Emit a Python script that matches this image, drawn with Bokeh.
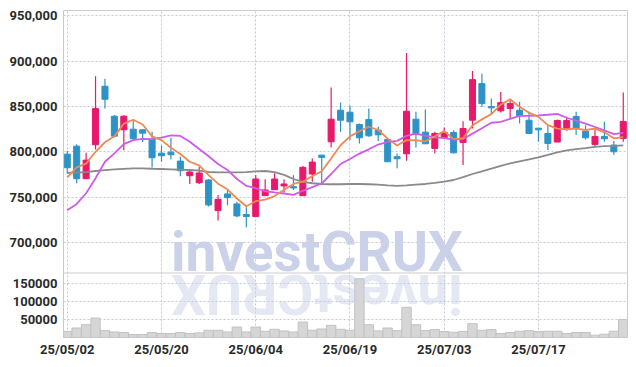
import math
from bokeh.plotting import figure
from bokeh.models import (Range1d, ColumnDataSource, FixedTicker, Grid, Span,
                          CustomJSTickFormatter)
from bokeh.embed import file_html
from bokeh.resources import INLINE
from bokeh.core.properties import value

dates = ["25/05/02", "25/05/07", "25/05/08", "25/05/09", "25/05/12", "25/05/13", "25/05/14", "25/05/15",
         "25/05/16", "25/05/19", "25/05/20", "25/05/21", "25/05/22", "25/05/23", "25/05/26", "25/05/27",
         "25/05/28", "25/05/29", "25/05/30", "25/06/02", "25/06/04", "25/06/05", "25/06/09", "25/06/10",
         "25/06/11", "25/06/12", "25/06/13", "25/06/16", "25/06/17", "25/06/18", "25/06/19", "25/06/20",
         "25/06/23", "25/06/24", "25/06/25", "25/06/26", "25/06/27", "25/06/30", "25/07/01", "25/07/02",
         "25/07/03", "25/07/04", "25/07/07", "25/07/08", "25/07/09", "25/07/10", "25/07/11", "25/07/14",
         "25/07/15", "25/07/16", "25/07/17", "25/07/18", "25/07/21", "25/07/22", "25/07/23", "25/07/24",
         "25/07/25", "25/07/28", "25/07/29", "25/07/30"]

opens = [797400, 806200, 770300, 807700, 872200, 839200, 824200, 824900, 824200, 813600,
         798500, 799600, 789700, 773600, 765900, 768900, 735200, 753500, 742500, 730800,
         728600, 751600, 758200, 762300, 761500, 751600, 775500, 796300, 811000, 845800,
         843600, 830000, 835500, 823800, 813600, 794500, 797800, 835900, 821600, 803700,
         815400, 821300, 810300, 834800, 875100, 849800, 845100, 847600, 845800, 834800,
         826000, 820200, 810700, 824900, 838900, 822700, 808100, 816900, 807400, 814700]
highs = [801100, 808400, 798900, 883200, 880600, 840300, 840300, 834800, 825000, 822000,
         807000, 815400, 794500, 779500, 783500, 770000, 752400, 758600, 745000, 738800,
         774400, 769600, 776200, 769600, 774000, 784300, 792700, 796700, 870700, 854200,
         851000, 831100, 847600, 827500, 813600, 798200, 908800, 844000, 846500, 822000,
         826800, 823800, 833700, 889000, 886100, 858600, 866000, 856800, 855000, 844000,
         826000, 829300, 835600, 838500, 844000, 829300, 824600, 833000, 811800, 865300]
lows = [776200, 765200, 770300, 802600, 847600, 815800, 801800, 813600, 810600, 782800,
        789000, 791600, 772900, 764500, 764500, 739600, 724200, 741000, 727800, 716800,
        728000, 751600, 758200, 755000, 757900, 751600, 767000, 765200, 804800, 822000,
        812900, 809200, 816500, 811800, 789000, 781700, 790100, 804800, 808800, 798200,
        814000, 798200, 785300, 825600, 849400, 842200, 843300, 836700, 831200, 819500,
        811000, 801900, 810700, 823100, 818400, 813600, 806300, 811000, 796700, 811000]
closes = [782400, 770300, 790800, 847600, 857900, 817200, 839200, 814300, 820500, 793400,
          795600, 796700, 779100, 777700, 776600, 741400, 747600, 749500, 729300, 728600,
          770000, 757900, 770000, 764500, 760100, 782800, 788600, 793800, 835900, 834800,
          833000, 815400, 817600, 818700, 789000, 792300, 844700, 819000, 808800, 820200,
          821300, 798900, 825600, 879500, 853100, 848400, 854200, 853100, 839600, 820200,
          824200, 809200, 834500, 834500, 825700, 815400, 816900, 814300, 800000, 833400]
volumes = [17000, 26300, 35400, 53600, 19000, 15400, 13600, 8200, 8200, 13600,
           10900, 10900, 13600, 10900, 12700, 20000, 20000, 15400, 29000, 15400,
           29000, 17300, 22700, 18200, 15400, 42700, 20000, 23600, 33600, 22700,
           20000, 162500, 35400, 18200, 26300, 19000, 83500, 35400, 19000, 21800,
           16300, 14500, 16800, 38100, 20000, 21800, 10900, 13600, 17300, 19000,
           16300, 17300, 17300, 10900, 13600, 13600, 6400, 9100, 17300, 49500]
ma5 = [771800, 782800, 787000, 800000, 810500, 817000, 831000, 835300, 830000, 817000,
       812800, 804500, 797500, 789000, 785100, 774300, 764800, 758600, 748500, 740000,
       745500, 747300, 751200, 758200, 764500, 767000, 773200, 778500, 792500, 807200,
       817000, 822600, 827600, 824000, 814500, 807000, 812800, 812700, 811500, 817000,
       822800, 814000, 815000, 829000, 835700, 841500, 852000, 857800, 849500, 843100,
       838500, 829300, 825500, 824800, 825600, 824000, 825600, 821400, 814800, 816200]
ma10 = [735500, 742500, 754300, 770800, 789000, 798200, 808400, 812900, 814300, 814000,
        815500, 818000, 817500, 811000, 803000, 795000, 786500, 780000, 770000, 762500,
        759800, 756500, 755200, 754000, 752500, 757000, 761000, 765000, 775500, 786500,
        792000, 798000, 802700, 808000, 811000, 812000, 817500, 820000, 817500, 816000,
        815000, 813500, 814000, 820000, 826000, 832000, 833000, 836300, 839500, 839500,
        840000, 840800, 841800, 837500, 834400, 831000, 827300, 823500, 819500, 820800]
ma60 = [776900, 777000, 777500, 778800, 779800, 780600, 781200, 781700, 781700, 781300,
        781000, 780600, 780200, 779900, 779200, 777700, 777300, 777300, 777300, 777600,
        778400, 778800, 777500, 774500, 770000, 766800, 765300, 764500, 764200, 764200,
        764500, 764500, 764200, 763800, 763000, 762300, 763000, 763800, 764500, 765700,
        767200, 768900, 772000, 775500, 778500, 781500, 784500, 787200, 789500, 791600,
        793800, 796500, 799300, 801500, 802800, 804000, 805500, 806300, 806600, 807000]

tick_idx = [0, 10, 20, 30, 40, 50]
price_ticks = [700000, 750000, 800000, 850000, 900000, 950000]
volume_ticks = [50000, 100000, 150000]
watermark = "investCRUX"

UP = "#e8196a"
DOWN = "#2d93c6"
FONT = "Roboto"
GRID = "#c5c8da"
LABEL = "#2a2a2a"
WM = "#cad1e8"

PSTART, PEND = 595300, 955700
PSPLIT = 666400
VSTART, VEND = 0, 904100

xs = list(range(len(dates)))
colors = [UP if c >= o else DOWN for o, c in zip(opens, closes)]
src = ColumnDataSource(dict(
    x=xs, high=highs, low=lows,
    top=[max(o, c) for o, c in zip(opens, closes)],
    bottom=[min(o, c) for o, c in zip(opens, closes)],
    color=colors, vol=volumes, ma5=ma5, ma10=ma10, ma60=ma60))

p = figure(width=628, height=359, x_range=Range1d(-0.4, 59.45), y_range=Range1d(PSTART, PEND),
           output_backend="svg", toolbar_location=None,
           min_border_left=63, min_border_right=1, min_border_top=10, min_border_bottom=21)
p.extra_y_ranges = {"vol": Range1d(VSTART, VEND)}
p.background_fill_color = "white"
p.border_fill_color = "white"
p.outline_line_color = "#cccccc"

p.xgrid.ticker = tick_idx
p.ygrid.ticker = price_ticks
vgrid = Grid(dimension=1, y_range_name="vol", ticker=FixedTicker(ticks=volume_ticks))
p.add_layout(vgrid)
for g in (p.xgrid[0], p.ygrid[0], vgrid):
    g.grid_line_color = GRID
    g.grid_line_dash = "2 2"
    g.grid_line_width = 1

p.add_layout(Span(location=PSPLIT, dimension="width", line_color="#cccccc", line_width=1))

k = (PEND - PSTART) / (VEND - VSTART)
vol_tick_pos = [PSTART + (t - VSTART) * k for t in volume_ticks]
ay = p.yaxis[0]
ay.ticker = FixedTicker(ticks=price_ticks + vol_tick_pos)
ay.formatter = CustomJSTickFormatter(args=dict(split=PSPLIT, a=PSTART, k=k, v0=VSTART), code="""
    if (tick > split) {
        return Math.round(tick).toString().replace(/\\B(?=(\\d{3})+(?!\\d))/g, ',');
    }
    const v = v0 + (tick - a) / k;
    return String(Math.round(v / 1000) * 1000);
""")
ax = p.xaxis[0]
ax.ticker = tick_idx
ax.major_label_overrides = {i: dates[i] for i in tick_idx}
for a in (ax, ay):
    a.major_tick_line_color = None
    a.minor_tick_line_color = None
    a.major_tick_out = 0
    a.major_tick_in = 0
    a.major_label_text_font = FONT
    a.major_label_text_font_style = "bold"
    a.major_label_text_font_size = "13px"
    a.major_label_text_color = LABEL
ay.major_label_standoff = 6
ay.axis_line_color = "#c8c8c8"
ax.axis_line_color = None
ax.major_label_standoff = 4

# watermark (letters sit just above the panel divider)
p.text(x=[26.49], y=[689200], text=[watermark], text_font=value(FONT), text_font_style="bold",
       text_font_size="55px", text_color=WM, text_align="center", text_baseline="alphabetic")

p.vbar(x="x", width=1.0, top="vol", bottom=0, fill_color="#d6d6d6", line_color="#c2c2c2",
       line_width=1, source=src, y_range_name="vol")

# mirrored reflection of the watermark, just below the divider
p.text(x=[26.49], y=[643100], text=[watermark], angle=math.pi, text_font=value(FONT),
       text_font_style="bold", text_font_size="55px", text_color=WM, text_alpha=0.5,
       text_align="center", text_baseline="alphabetic")

p.segment(x0="x", y0="low", x1="x", y1="high", line_color="color", line_width=1.2, source=src)
p.vbar(x="x", width=0.64, top="top", bottom="bottom", fill_color="color", line_color="color",
       line_width=1, source=src)

p.line("x", "ma60", line_color="#8a8a8a", line_width=1.8, source=src)
p.line("x", "ma10", line_color="#cf5ce8", line_width=1.8, source=src)
p.line("x", "ma5", line_color="#ef8a52", line_width=1.8, source=src)

open("out.html", "w").write(file_html(p, INLINE))
